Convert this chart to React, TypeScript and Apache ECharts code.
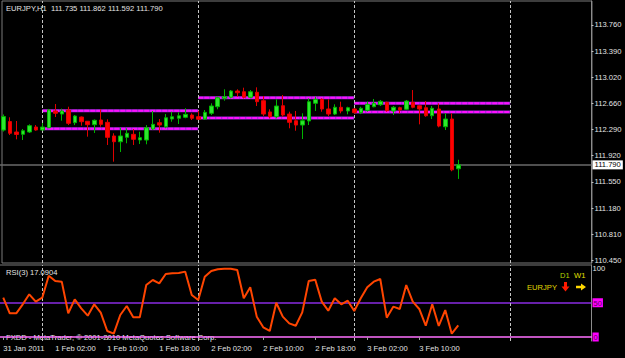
import React, { useEffect, useRef } from "react";
import * as echarts from "echarts";

// ---------- data ----------
const symbol = "EURJPY,H1";
const dayNames = ["31 Jan", "1 Feb", "2 Feb", "3 Feb", "4 Feb"];
const firstHour = 18; // first bar: 31 Jan 18:00
const slotCount = 91; // 71 bars + empty right shift

const opens = [
  112.28, 112.4, 112.253, 112.22, 112.253, 112.323, 112.281, 112.313, 112.549, 112.506,
  112.563, 112.384, 112.464, 112.404, 112.356, 112.422, 112.389, 112.197, 112.116, 112.178,
  112.22, 112.14, 112.14, 112.295, 112.384, 112.327, 112.436, 112.446, 112.46, 112.492,
  112.468, 112.436, 112.516, 112.609, 112.727, 112.742, 112.83, 112.82, 112.742, 112.812,
  112.694, 112.535, 112.468, 112.623, 112.506, 112.412, 112.351, 112.408, 112.657, 112.713,
  112.577, 112.506, 112.601, 112.549, 112.577, 112.525, 112.558, 112.609, 112.637, 112.671,
  112.549, 112.595, 112.573, 112.671, 112.623, 112.595, 112.482, 112.577, 112.327, 112.436,
  111.735,
];
const closes = [
  112.47, 112.235, 112.218, 112.271, 112.342, 112.281, 112.323, 112.563, 112.516, 112.549,
  112.375, 112.478, 112.398, 112.356, 112.418, 112.361, 112.178, 112.116, 112.197, 112.235,
  112.15, 112.173, 112.313, 112.361, 112.351, 112.454, 112.468, 112.482, 112.502, 112.446,
  112.432, 112.53, 112.619, 112.736, 112.75, 112.83, 112.806, 112.742, 112.82, 112.68,
  112.506, 112.468, 112.619, 112.492, 112.389, 112.351, 112.412, 112.68, 112.713, 112.577,
  112.506, 112.601, 112.549, 112.595, 112.525, 112.587, 112.643, 112.657, 112.685, 112.553,
  112.601, 112.563, 112.689, 112.601, 112.577, 112.482, 112.587, 112.337, 112.436, 111.72,
  111.79,
];
const lows = [
  112.26, 112.21, 112.15, 112.14, 112.239, 112.271, 112.28, 112.31, 112.464, 112.412,
  112.351, 112.351, 112.342, 112.187, 112.239, 112.327, 112.07, 111.835, 111.971, 112.094,
  112.07, 112.084, 112.08, 112.281, 112.243, 112.305, 112.398, 112.366, 112.446, 112.422,
  112.422, 112.422, 112.492, 112.573, 112.694, 112.727, 112.75, 112.725, 112.727, 112.619,
  112.478, 112.446, 112.446, 112.468, 112.305, 112.271, 112.154, 112.351, 112.549, 112.539,
  112.478, 112.492, 112.516, 112.502, 112.51, 112.506, 112.539, 112.601, 112.619, 112.539,
  112.492, 112.516, 112.563, 112.587, 112.361, 112.468, 112.436, 112.319, 112.281, 111.7,
  111.592,
];
const highs = [
  112.5, 112.46, 112.408, 112.295, 112.361, 112.351, 112.38, 112.577, 112.647, 112.581,
  112.609, 112.492, 112.471, 112.408, 112.43, 112.573, 112.432, 112.235, 112.313, 112.305,
  112.295, 112.257, 112.351, 112.549, 112.436, 112.506, 112.539, 112.53, 112.587, 112.516,
  112.553, 112.563, 112.657, 112.75, 112.854, 112.844, 112.854, 112.877, 112.844, 112.882,
  112.76, 112.573, 112.713, 112.774, 112.539, 112.549, 112.516, 112.727, 112.75, 112.727,
  112.713, 112.643, 112.68, 112.609, 112.59, 112.609, 112.68, 112.718, 112.704, 112.68,
  112.619, 112.609, 112.704, 112.844, 112.63, 112.689, 112.619, 112.657, 112.516, 112.516,
  111.862,
];
const rsi = [
  57.4, 34.6, 34.6, 47.7, 62.3, 51.6, 57.4, 89.5, 81.8, 80.8,
  34.6, 55, 41.9, 31.1, 47.7, 35.5, 8.8, 4.9, 32.1, 45.3,
  28.7, 28.7, 75.9, 83.2, 78.3, 92, 92.9, 93.4, 95.4, 61.3,
  54, 88, 96.4, 99.0, 99.5, 99.6, 97.8, 56.5, 72.5, 29.7,
  14.1, 8.8, 50, 29.7, 19.9, 16.5, 36, 81.8, 83.7, 51.6,
  38.4, 56.5, 47.7, 53, 38, 56.5, 72.5, 80.8, 84.7, 28.2,
  44.3, 40.9, 75.9, 51.6, 40.9, 16.5, 47.7, 16.1, 39.4, 4.9,
  17.0904,
];
const rsiPeriod = 3;
const rsiLevels = [0, 50, 100];

// daily level lines (start bar, end bar, upper, lower)
const levelStart = [6, 30, 54];
const levelEnd = [30, 54, 78];
const levelUpper = [112.553, 112.736, 112.657];
const levelLower = [112.299, 112.45, 112.535];

// period separators (bar index of day start)
const separators = [6, 30, 54, 78];

// price axis ticks
const priceTicks = [113.76, 113.39, 113.02, 112.66, 112.29, 111.92, 111.55, 111.18, 110.81, 110.45];
const priceMin = 110.408;
const priceMax = 114.098;

// time axis labels
const tickIndex = [0, 8, 16, 24, 32, 40, 48, 56, 64];
const tickLabels = [
  "31 Jan 2011", "1 Feb 02:00", "1 Feb 10:00", "1 Feb 18:00", "2 Feb 02:00",
  "2 Feb 10:00", "2 Feb 18:00", "3 Feb 02:00", "3 Feb 10:00",
];

const categories: string[] = [];
for (let k = 0; k < slotCount; k++) {
  const t = firstHour + k;
  const d = Math.floor(t / 24);
  const h = t % 24;
  categories.push(`${dayNames[d]} ${h < 10 ? "0" : ""}${h}:00`);
}

const FONT = "'Liberation Sans', Arial, sans-serif";
const FS = 7.6;
const TXT = "#e4e4e4";

export default function App() {
  const ref = useRef<HTMLDivElement>(null);
  useEffect(() => {
    const chart = echarts.init(ref.current!, null, { renderer: "svg" });
    const last = opens.length - 1;
    const bid = closes[last];
    const ohlc = opens.map((o, i) => [o, closes[i], lows[i], highs[i]]);

    const sepMarks = separators.map((i) => ({
      xAxis: categories[i],
      lineStyle: { type: [3, 2], color: "#c4c4c4", width: 1 },
      label: { show: false },
    }));

    const levelSeries: any[] = [];
    levelStart.forEach((s, k) => {
      [levelUpper[k], levelLower[k]].forEach((v) => {
        const d = [[categories[s], v], [categories[levelEnd[k]], v]];
        levelSeries.push({
          type: "line", xAxisIndex: 0, yAxisIndex: 0, data: d, symbol: "none",
          lineStyle: { color: "#9a28d8", width: 3 }, silent: true, z: 3,
        });
        levelSeries.push({
          type: "line", xAxisIndex: 0, yAxisIndex: 0, data: d, symbol: "none",
          lineStyle: { color: "#ff10ff", width: 2, type: [5, 1] }, silent: true, z: 4,
        });
      });
    });

    const tickFn = (idx: number) => tickIndex.indexOf(idx) >= 0;

    const option: any = {
      animation: false,
      backgroundColor: "#000000",
      textStyle: { fontFamily: FONT },
      grid: [
        { left: 0, top: 1, width: 591.5, height: 262, containLabel: false, outerBoundsMode: "none" },
        { left: 0, top: 265, width: 591.5, height: 76, containLabel: false, outerBoundsMode: "none" },
      ],
      xAxis: [
        { type: "category", gridIndex: 0, data: categories, boundaryGap: true, show: false },
        {
          type: "category", gridIndex: 1, data: categories, boundaryGap: true,
          axisLine: { lineStyle: { color: "#ff70ff", width: 1.5 } },
          axisTick: { show: true, alignWithLabel: true, interval: tickFn, length: 3, lineStyle: { color: "#a0a0a0" } },
          axisLabel: {
            interval: tickFn,
            formatter: (_v: string, i: number) => tickLabels[tickIndex.indexOf(i)] ?? "",
            align: "left", color: TXT, fontSize: FS, fontFamily: FONT, margin: 3,
          },
          splitLine: { show: false },
        },
      ],
      yAxis: [
        {
          type: "value", gridIndex: 0, position: "right", min: priceMin, max: priceMax,
          splitLine: { show: false },
          axisLine: { show: true, lineStyle: { color: "#8c8c8c" } },
          axisTick: { show: true, length: 2, customValues: priceTicks, lineStyle: { color: "#c0c0c0" } },
          axisLabel: {
            customValues: priceTicks, formatter: (v: number) => v.toFixed(3),
            color: TXT, fontSize: FS, fontFamily: FONT, margin: 3,
          },
        },
        {
          type: "value", gridIndex: 1, position: "right", min: -5.84, max: 105.1,
          splitLine: { show: false },
          axisLine: { show: true, lineStyle: { color: "#8c8c8c" } },
          axisTick: { show: false },
          axisLabel: {
            customValues: rsiLevels,
            formatter: (v: number) => (v === 100 ? String(v) : `{box|${v}}`),
            color: TXT, fontSize: FS, fontFamily: FONT, margin: 1,
            rich: {
              box: { backgroundColor: "#ff00ff", color: "#5a005a", fontSize: FS, fontFamily: FONT, padding: [1, 1, 0, 1] },
            },
          },
        },
      ],
      series: [
        {
          type: "candlestick", xAxisIndex: 0, yAxisIndex: 0, data: ohlc, barWidth: 4, z: 5,
          itemStyle: { color: "#2ee62e", color0: "#ff0000", borderColor: "#00b400", borderColor0: "#e00000", borderWidth: 1 },
          markLine: {
            symbol: ["none", "none"], silent: true, animation: false,
            data: [
              ...sepMarks,
              {
                yAxis: bid,
                lineStyle: { type: "solid", color: "#6a6a6a", width: 1.5 },
                label: {
                  show: true, position: "end", formatter: bid.toFixed(3), distance: 1,
                  backgroundColor: "#ffffff", color: "#000000", fontSize: FS, fontFamily: FONT, padding: [1, 2, 0, 2],
                },
              },
            ],
          },
        },
        ...levelSeries,
        {
          type: "line", xAxisIndex: 1, yAxisIndex: 1, data: rsi, symbol: "none", z: 5,
          lineStyle: { color: "#ff4500", width: 2 },
          markLine: {
            symbol: ["none", "none"], silent: true, animation: false,
            data: [
              { yAxis: 50, lineStyle: { type: "solid", color: "#8a2be2", width: 1.5 }, label: { show: false } },
              ...sepMarks,
            ],
          },
        },
      ],
      graphic: [
        { type: "rect", silent: true, shape: { x: 2, y: 1, width: 590, height: 262 }, style: { fill: "none", stroke: "#7a7a7a", lineWidth: 1 } },
        { type: "line", silent: true, shape: { x1: 0, y1: 265, x2: 592, y2: 265 }, style: { stroke: "#7a7a7a", lineWidth: 1 } },
        {
          type: "text", x: 6, y: 8,
          style: {
            text: `${symbol}  ${opens[last].toFixed(3)} ${highs[last].toFixed(3)} ${lows[last].toFixed(3)} ${closes[last].toFixed(3)}`,
            fill: TXT, fontSize: FS, fontFamily: FONT, verticalAlign: "middle",
          },
        },
        {
          type: "text", x: 6, y: 272.5,
          style: { text: `RSI(${rsiPeriod}) ${rsi[last].toFixed(4)}`, fill: TXT, fontSize: FS, fontFamily: FONT, verticalAlign: "middle" },
        },
        {
          type: "text", x: 6, y: 337,
          style: { text: "FXDD - MetaTrader, © 2001-2010 MetaQuotes Software Corp.", fill: TXT, fontSize: FS, fontFamily: FONT, verticalAlign: "middle" },
        },
        { type: "text", x: 560, y: 275.5, style: { text: "D1", fill: "#b4d200", fontSize: FS, fontFamily: FONT, verticalAlign: "middle" } },
        { type: "text", x: 574, y: 275.5, style: { text: "W1", fill: "#e8e000", fontSize: FS, fontFamily: FONT, verticalAlign: "middle" } },
        { type: "text", x: 527, y: 287.5, style: { text: "EURJPY", fill: "#e0d800", fontSize: FS, fontFamily: FONT, verticalAlign: "middle" } },
        {
          type: "polygon", silent: true,
          shape: { points: [[564, 282], [567, 282], [567, 286.5], [569.5, 286.5], [565.5, 291.5], [561.5, 286.5], [564, 286.5]] },
          style: { fill: "#ff1a00" },
        },
        {
          type: "polygon", silent: true,
          shape: { points: [[576, 285.8], [581, 285.8], [581, 283.5], [586, 287], [581, 290.5], [581, 288.2], [576, 288.2]] },
          style: { fill: "#ffd800" },
        },
      ],
    };
    chart.setOption(option);
    return () => chart.dispose();
  }, []);
  return (
    <div
      ref={ref}
      style={{ position: "absolute", left: 0, top: 0, width: 625, height: 358, background: "#000" }}
    />
  );
}
